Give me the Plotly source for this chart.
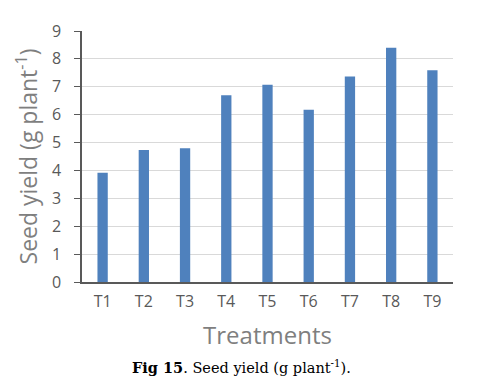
import plotly.graph_objects as go

treatments = ["T1", "T2", "T3", "T4", "T5", "T6", "T7", "T8", "T9"]
seed_yield = [3.92, 4.73, 4.80, 6.70, 7.07, 6.18, 7.37, 8.40, 7.59]
y_ticks = [0, 1, 2, 3, 4, 5, 6, 7, 8, 9]

fig = go.Figure(go.Bar(x=treatments, y=seed_yield, marker=dict(color="#4F81BD", line=dict(width=0)), width=0.25))

fig.update_layout(
    width=483, height=386,
    margin=dict(l=74, r=38, t=21, b=112),
    paper_bgcolor="white", plot_bgcolor="white",
    showlegend=False,
    font=dict(family="Open Sans, Liberation Sans, sans-serif", color="#595959"),
)
fig.update_yaxes(
    range=[0, 9], tickvals=y_ticks, showgrid=True, gridcolor="#D9D9D9", gridwidth=1,
    showline=True, linecolor="#595959", linewidth=1.5,
    ticks="outside", ticklen=6, tickcolor="#595959", ticklabelstandoff=10,
    tickfont=dict(size=16, color="#595959"), zeroline=False,
    title=dict(text="Seed yield (g plant<sup>-1</sup>)", font=dict(size=23, color="#7F7F7F"), standoff=8),
)
fig.update_xaxes(
    showline=True, linecolor="#595959", linewidth=1.5,
    tickfont=dict(size=16, color="#595959"), ticks="", ticklabelstandoff=4,
    title=dict(text="Treatments", font=dict(size=24, color="#7F7F7F"), standoff=16),
)
fig.add_annotation(
    xref="paper", yref="paper", x=0.43, y=-0.34, xanchor="center", yanchor="middle",
    text="<b>Fig 15</b>. Seed yield (g plant<sup>-1</sup>).", showarrow=False,
    font=dict(family="DejaVu Serif, Liberation Serif, serif", size=14.5, color="black"),
)
fig.write_html("out.html")
